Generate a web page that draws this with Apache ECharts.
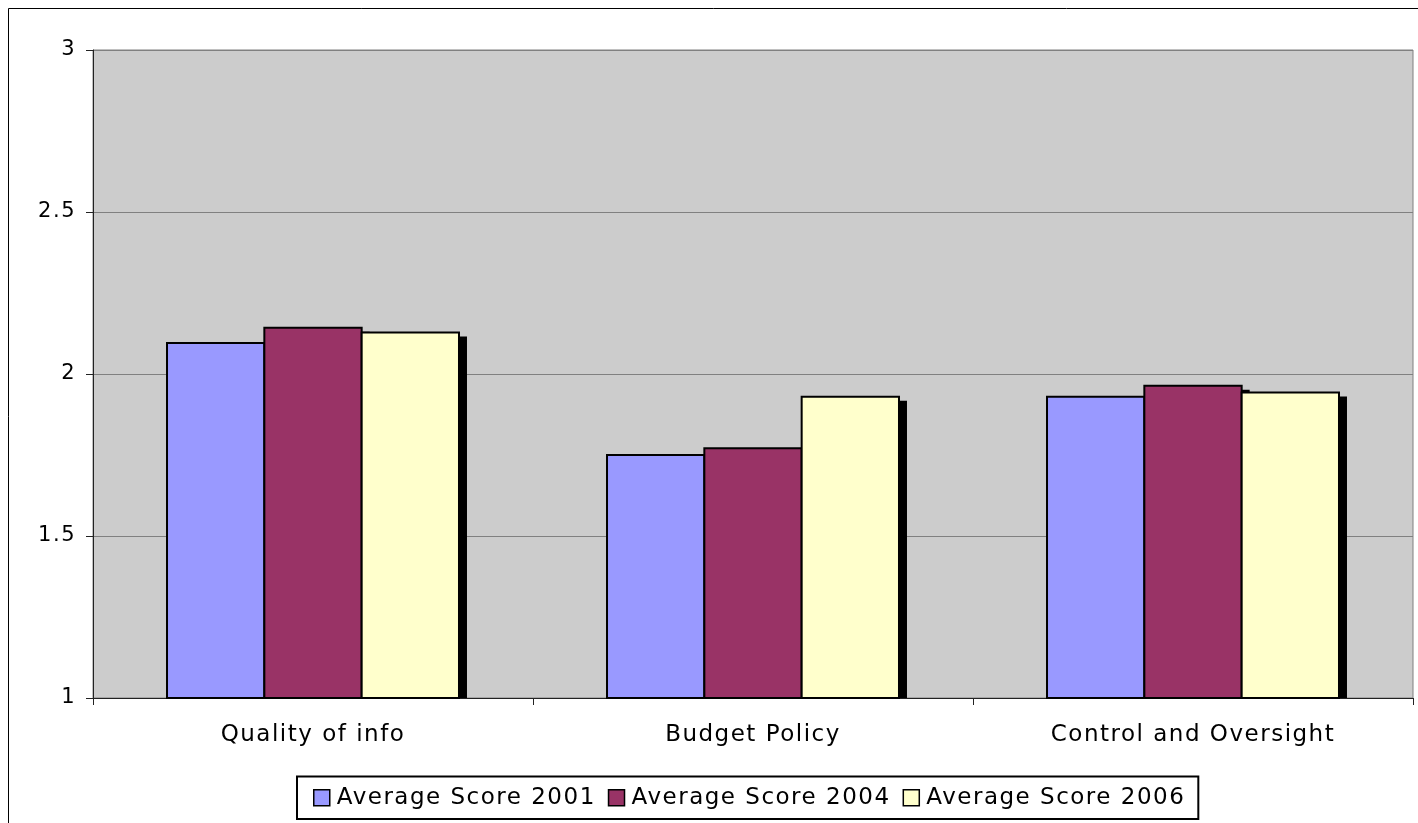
<!DOCTYPE html>
<html><head><meta charset="utf-8">
<script src="https://cdn.jsdelivr.net/npm/echarts@6/dist/echarts.min.js"></script>
<style>html,body{margin:0;padding:0;background:#fff}#c{width:1418px;height:823px}</style>
</head><body><div id="c"></div>
<script>
// Widen glyph spacing a little, like the hinted Verdana of the original
(function () {
  const d = Object.getOwnPropertyDescriptor(CanvasRenderingContext2D.prototype, 'font');
  if (d && d.set) {
    Object.defineProperty(CanvasRenderingContext2D.prototype, 'font', {
      configurable: true,
      get() { return d.get.call(this); },
      set(v) { d.set.call(this, v); try { this.letterSpacing = '1.5px'; } catch (e) {} }
    });
  }
})();

const categories = ['Quality of info', 'Budget Policy', 'Control and Oversight'];
const seriesNames = ['Average Score 2001', 'Average Score 2004', 'Average Score 2006'];
const score2001 = [2.096, 1.75, 1.93];
const score2004 = [2.143, 1.771, 1.964];
const score2006 = [2.128, 1.93, 1.943];
const colors = ['#9999FF', '#993366', '#FFFFCC'];
const font = '"DejaVu Sans", Verdana, sans-serif';

const chart = echarts.init(document.getElementById('c'));

function makeSeries(name, values, i) {
  return {
    name, type: 'custom',
    itemStyle: { color: colors[i], borderColor: '#000', borderWidth: 1.5 },
    encode: { x: 0, y: 1 },
    data: values.map((v, k) => [k, v]),
    renderItem(params, api) {
      const band = api.size([1, 0])[0];
      const w = band * 0.2212;
      const topPt = api.coord([api.value(0), api.value(1)]);
      const basePt = api.coord([api.value(0), 1]);
      const x = topPt[0] + (i - 1.5) * w;
      const top = topPt[1], bottom = basePt[1];
      return {
        type: 'group',
        children: [
          { type: 'rect', shape: { x: x + 8, y: top + 4, width: w, height: bottom - top - 4 },
            style: { fill: '#000' } },
          { type: 'rect', shape: { x: x, y: top, width: w, height: bottom - top },
            style: { fill: colors[i], stroke: '#000', lineWidth: 2 } }
        ]
      };
    }
  };
}

chart.setOption({
  animation: false,
  textStyle: { fontFamily: font },
  graphic: [{ type: 'rect', shape: { x: 8.5, y: 8.5, width: 1430, height: 840 },
    style: { fill: null, stroke: '#000', lineWidth: 1 }, silent: true, z: -10 }],
  grid: { left: 93, top: 50, width: 1320, height: 648, show: true,
    backgroundColor: '#CCCCCC', borderColor: '#808080', borderWidth: 1 },
  legend: {
    bottom: 4, left: 297, data: seriesNames,
    backgroundColor: '#fff', borderColor: '#000', borderWidth: 2,
    padding: [9, 13, 9, 16], itemGap: 12, itemWidth: 16, itemHeight: 16,
    icon: 'rect',
    itemStyle: { borderColor: '#000', borderWidth: 1.5 },
    textStyle: { fontSize: 23, color: '#000', fontFamily: font, padding: [0, 0, 0, 2] }
  },
  xAxis: {
    type: 'category', data: categories,
    axisLine: { lineStyle: { color: '#222', width: 1 } },
    axisTick: { show: true, length: 7, lineStyle: { color: '#222' } },
    axisLabel: { fontSize: 23, color: '#000', margin: 25, fontFamily: font }
  },
  yAxis: {
    type: 'value', min: 1, max: 3, interval: 0.5,
    axisLine: { show: true, lineStyle: { color: '#222', width: 1 } },
    axisTick: { show: true, length: 7, lineStyle: { color: '#222' } },
    splitLine: { lineStyle: { color: '#808080', width: 1 } },
    axisLabel: { fontSize: 21, color: '#000', margin: 17, fontFamily: font }
  },
  series: [makeSeries(seriesNames[0], score2001, 0), makeSeries(seriesNames[1], score2004, 1), makeSeries(seriesNames[2], score2006, 2)]
});
</script></body></html>
